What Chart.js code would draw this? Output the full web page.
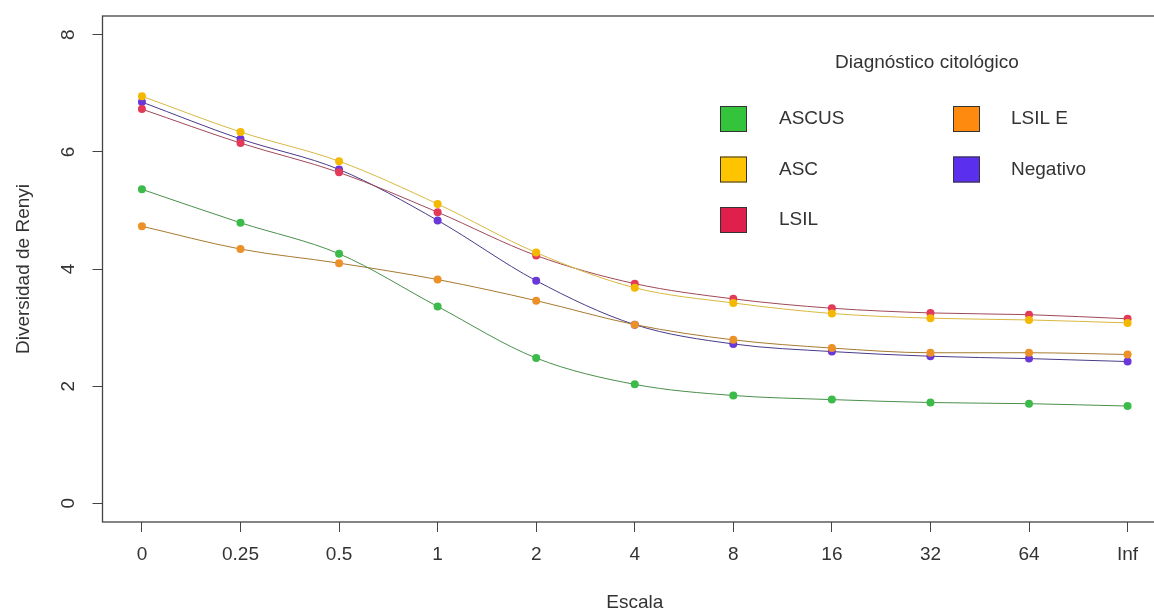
<!DOCTYPE html>
<html>
<head>
<meta charset="utf-8">
<script src="https://cdn.jsdelivr.net/npm/chart.js@4.4.1/dist/chart.umd.min.js"></script>
<style>
  html, body { margin: 0; padding: 0; background: #fff; overflow: hidden; }
  #wrap { width: 1171px; height: 614px; }
</style>
</head>
<body>
<div id="wrap"><canvas id="c" width="1171" height="614"></canvas></div>
<script>
// Renyi diversity profile by cytology diagnosis
const escala = ['0', '0.25', '0.5', '1', '2', '4', '8', '16', '32', '64', 'Inf'];
const yTicks = [0, 2, 4, 6, 8];

const ascus    = [5.36, 4.79, 4.26, 3.36, 2.48, 2.03, 1.84, 1.77, 1.72, 1.70, 1.66];
const asc      = [6.95, 6.34, 5.84, 5.11, 4.28, 3.68, 3.42, 3.24, 3.16, 3.13, 3.08];
const lsil     = [6.73, 6.15, 5.65, 4.97, 4.23, 3.75, 3.49, 3.33, 3.25, 3.22, 3.15];
const lsilE    = [4.73, 4.34, 4.10, 3.82, 3.46, 3.05, 2.79, 2.65, 2.57, 2.57, 2.54];
const negativo = [6.85, 6.22, 5.70, 4.83, 3.80, 3.05, 2.72, 2.59, 2.51, 2.47, 2.42];

const FONT = "'Liberation Sans', Arial, sans-serif";
const TXT = '#333';

const series = [
  { label: 'ASCUS',    data: ascus,    fill: '#33c43c', point: '#3dbb4a', line: '#4a8f4a' },
  { label: 'ASC',      data: asc,      fill: '#ffc400', point: '#f5b800', line: '#d8b840' },
  { label: 'LSIL',     data: lsil,     fill: '#e0204c', point: '#e23a58', line: '#a04858' },
  { label: 'LSIL E',   data: lsilE,    fill: '#ff8a10', point: '#ec9028', line: '#a87a30' },
  { label: 'Negativo', data: negativo, fill: '#5a30ee', point: '#6a38d8', line: '#4a3a8a' }
];

const rBase = {
  id: 'rBase',
  afterDraw(chart) {
    const ctx = chart.ctx;
    const a = chart.chartArea;
    const ys = chart.scales.y;
    ctx.save();
    // box
    ctx.strokeStyle = '#444';
    ctx.lineWidth = 1.3;
    ctx.strokeRect(a.left, a.top, a.right - a.left, a.bottom - a.top);

    ctx.fillStyle = TXT;
    ctx.font = '19px ' + FONT;
    ctx.textAlign = 'center';
    ctx.textBaseline = 'middle';
    // y tick labels, parallel to axis
    yTicks.forEach(v => {
      ctx.save();
      ctx.translate(69, ys.getPixelForValue(v));
      ctx.rotate(-Math.PI / 2);
      ctx.fillText(String(v), 0, 0);
      ctx.restore();
    });
    // axis titles
    ctx.save();
    ctx.translate(24, (a.top + a.bottom) / 2);
    ctx.rotate(-Math.PI / 2);
    ctx.fillText('Diversidad de Renyi', 0, 0);
    ctx.restore();
    ctx.fillText('Escala', (a.left + a.right) / 2, 603);

    // legend
    ctx.fillText('Diagnóstico citológico', 927, 63);
    const cols = [
      { sq: 720, tx: 779, items: [0, 1, 2] },
      { sq: 953, tx: 1011, items: [3, 4] }
    ];
    const rowY = [119, 169.5, 220];
    ctx.textAlign = 'left';
    cols.forEach(col => {
      col.items.forEach((idx, r) => {
        const s = series[idx];
        const cy = rowY[r];
        ctx.fillStyle = s.fill;
        ctx.fillRect(col.sq, cy - 13, 27, 26);
        ctx.strokeStyle = '#333';
        ctx.lineWidth = 1;
        ctx.strokeRect(col.sq + 0.5, cy - 12.5, 26, 25);
        ctx.fillStyle = TXT;
        ctx.fillText(s.label, col.tx, cy);
      });
    });
    ctx.restore();
  }
};

new Chart(document.getElementById('c'), {
  type: 'line',
  data: {
    datasets: series.map(s => ({
      label: s.label,
      data: s.data.map((v, i) => ({ x: i, y: v })),
      borderColor: s.line,
      borderWidth: 1,
      backgroundColor: s.point,
      pointBackgroundColor: s.point,
      pointBorderWidth: 0,
      pointRadius: 4,
      cubicInterpolationMode: 'monotone',
      fill: false
    }))
  },
  options: {
    responsive: false,
    animation: false,
    layout: { padding: { left: 0, right: 2.5, top: 16, bottom: 0 } },
    plugins: { legend: { display: false }, tooltip: { enabled: false } },
    scales: {
      x: {
        type: 'linear',
        min: -0.4,
        max: 10.4,
        afterBuildTicks: sc => { sc.ticks = escala.map((_, i) => ({ value: i })); },
        afterFit: sc => { sc.height = 92; },
        border: { display: false },
        grid: { drawOnChartArea: false, drawTicks: true, tickLength: 10, color: '#444', lineWidth: 1 },
        ticks: {
          color: TXT,
          font: { family: FONT, size: 19 },
          padding: 11,
          maxRotation: 0,
          autoSkip: false,
          callback: v => escala[v]
        }
      },
      y: {
        min: -0.32,
        max: 8.32,
        afterBuildTicks: sc => { sc.ticks = yTicks.map(v => ({ value: v })); },
        afterFit: sc => { sc.width = 102.5; },
        border: { display: false },
        grid: { drawOnChartArea: false, drawTicks: true, tickLength: 10, color: '#444', lineWidth: 1 },
        ticks: { display: false }
      }
    }
  },
  plugins: [rBase]
});
</script>
</body>
</html>
